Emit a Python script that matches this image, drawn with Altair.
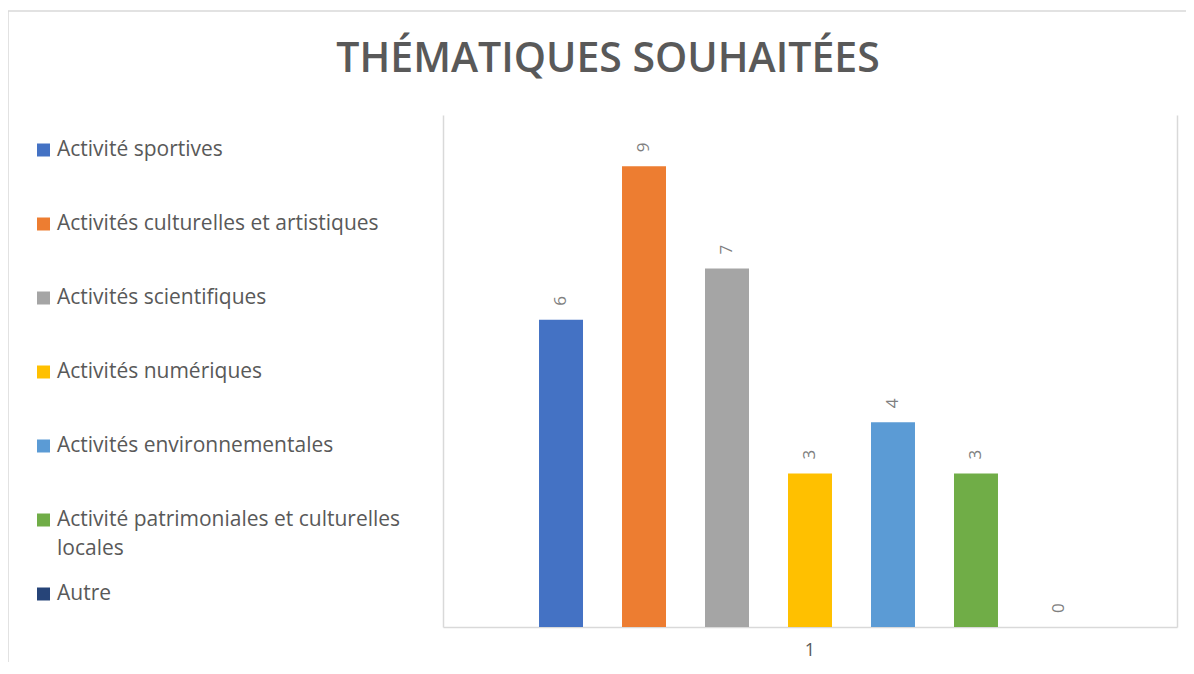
import altair as alt
import pandas as pd

categories = [
    "Activité sportives",
    "Activités culturelles et artistiques",
    "Activités scientifiques",
    "Activités numériques",
    "Activités environnementales",
    "Activité patrimoniales et culturelles locales",
    "Autre",
]
values = [6, 9, 7, 3, 4, 3, 0]
colors = ["#4472C4", "#ED7D31", "#A5A5A5", "#FFC000", "#5B9BD5", "#70AD47", "#264478"]
group_label = "1"
title_text = "THÉMATIQUES SOUHAITÉES"

df = pd.DataFrame({
    "group": [group_label] * len(categories),
    "cat": categories,
    "value": values,
})
# legend label, wrapped like the original
df["label"] = df["cat"].str.replace(" culturelles locales", " culturelles\nlocales", regex=False)

FONT = "Open Sans"
GRID = "#d9d9d9"
TXT = "#595959"

x_enc = alt.X(
    "group:N",
    scale=alt.Scale(paddingInner=0, paddingOuter=0.1317),
    axis=alt.Axis(title=None, labelAngle=0, ticks=False, domainColor=GRID, domainWidth=1.5,
                  labelColor=TXT, labelFontSize=18, labelPadding=14, labelFont=FONT,
                  grid=False),
)
xo_enc = alt.XOffset("cat:N", sort=categories,
                     scale=alt.Scale(paddingInner=0.47, paddingOuter=0.235))
y_scale = alt.Scale(domain=[0, 10], nice=False)
color_enc = alt.Color("cat:N", sort=categories,
                      scale=alt.Scale(domain=categories, range=colors), legend=None)

bars = alt.Chart(df).mark_bar().encode(
    x=x_enc,
    xOffset=xo_enc,
    y=alt.Y("value:Q", scale=y_scale,
            axis=alt.Axis(title=None, labels=False, ticks=False, grid=False, orient="left",
                          domainColor=GRID, domainWidth=1.5)),
    color=color_enc,
)

labels = alt.Chart(df).mark_text(angle=270, align="left", baseline="middle", dx=14,
                                 font=FONT, fontSize=17, color="#7f7f7f").encode(
    x=x_enc,
    xOffset=xo_enc,
    y=alt.Y("value:Q", scale=y_scale,
            axis=alt.Axis(title=None, labels=False, ticks=False, grid=False, orient="right",
                          domainColor=GRID, domainWidth=1.5)),
    text=alt.Text("value:Q"),
)

# legend (left side): one row per category, placed by a point scale
leg_y = alt.Y("cat:N", sort=categories, axis=None,
              scale=alt.Scale(type="point", range=[35, 479], padding=0))

leg_sq = alt.Chart(df).mark_square(size=169, opacity=1).encode(
    x=alt.value(-399.5),
    y=leg_y,
    color=color_enc,
)

leg_txt = alt.Chart(df).mark_text(align="left", baseline="middle", font=FONT, fontSize=21,
                                  color=TXT, lineBreak="\n", lineHeight=29).encode(
    x=alt.value(-386),
    y=leg_y,
    text=alt.Text("label:N"),
)

frame = alt.Chart(pd.DataFrame({"f": [0]})).mark_rect(
    filled=False, stroke=GRID, strokeWidth=1.5
).encode(
    x=alt.value(-435), x2=alt.value(900), y=alt.value(-104), y2=alt.value(800)
)

chart = alt.layer(frame, bars, labels, leg_sq, leg_txt).resolve_scale(
    y="independent"
).resolve_axis(y="independent").properties(
    width=734,
    height=512,
    autosize="none",
    padding={"left": 435, "top": 107, "right": 9, "bottom": 35},
    title=alt.TitleParams(title_text, font=FONT, fontSize=41, fontWeight=600,
                          color=TXT, anchor="middle", frame="group", dx=-202,
                          offset=0, dy=71),
).configure_view(stroke=None)

chart.save("out.html", embed_options={"renderer": "svg", "actions": False})
